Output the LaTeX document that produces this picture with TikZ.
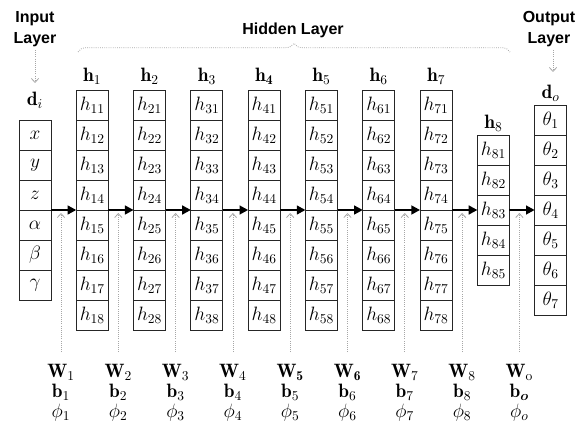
\RequirePackage{fix-cm}
\documentclass[tikz,border=0pt]{standalone}
\usepackage{amsmath}
\usepackage{bm}
\usepackage{fontspec}
\newfontfamily\labfont{Liberation Sans}
\usetikzlibrary{arrows.meta,decorations.pathreplacing}
\begin{document}
\begin{tikzpicture}[x=0.75pt,y=-0.75pt,
  font=\fontsize{14.5}{17}\selectfont,
  cell/.style={draw=black!85, line width=0.7pt, minimum width=24pt, minimum height=22.5pt, inner sep=0pt},
  colbox/.style={draw=none, minimum width=24pt, inner sep=0pt, outer sep=0pt},
  fwd/.style={line width=1.7pt, -{Triangle[length=6.5pt,width=6.5pt]}},
  dotarrow/.style={gray!70, densely dotted, line width=0.6pt, -{Straight Barb[length=3pt,width=5.5pt]}},
  layerlab/.style={font=\labfont\bfseries\fontsize{12}{15.5}\selectfont, align=center, inner sep=1pt},
  param/.style={inner sep=0pt}]
\useasboundingbox (0,0) rectangle (577,423);

% input column
\node[colbox, minimum height=135pt] (col0) at (35,210) {};
\foreach \r/\t in {1/x,2/y,3/z,4/\alpha,5/\beta,6/\gamma}
  \node[cell] (in-\r) at (35,{105+30*\r}) {$\t$};
\node (di) at (35,100) {$\mathbf{d}_i$};

% hidden columns 1..7
\foreach \k/\hs in {1/1,2/2,3/3,4/\mathbf{4},5/5,6/6,7/7} {
  \node[colbox, minimum height=180pt] (col\k) at ({35+57.3*\k},210) {};
  \node (hl\k) at ({35+57.3*\k},76) {$\mathbf{h}_{\hs}$};
  \foreach \r in {1,...,8}
    \node[cell] (h\k-\r) at ({35+57.3*\k},{75+30*\r}) {$h_{\k\r}$};
}

% hidden column 8
\node[colbox, minimum height=112.5pt] (col8) at ({35+57.3*8},210) {};
\node (hl8) at ({35+57.3*8},123) {$\mathbf{h}_8$};
\foreach \r in {1,...,5}
  \node[cell] (h8-\r) at ({35+57.3*8},{120+30*\r}) {$h_{8\r}$};

% output column
\node[colbox, minimum height=157.5pt] (col9) at ({35+57.3*9},210) {};
\node (do) at ({35+57.3*9},93) {$\mathbf{d}_o$};
\foreach \r in {1,...,7}
  \node[cell] (out-\r) at ({35+57.3*9},{90+30*\r}) {$\theta_{\r}$};

% forward arrows
\foreach \k [evaluate=\k as \j using int(\k+1)] in {0,...,8}
  \draw[fwd] (col\k.east) -- (col\j.west);

% parameters
\foreach \k/\ws/\bs/\ps in {0/1/1/1,1/2/2/2,2/3/3/3,3/4/4/4,4/\mathbf{5}/5/5,5/\mathbf{6}/6/6,6/7/7/7,7/8/8/8,8/\mathrm{o}/\bm{o}/o} {
  \node[param] (W\k) at ({61+57.3*\k},372) {$\mathbf{W}_{\ws}$};
  \node[param] (b\k) at ({61+57.3*\k},392) {$\mathbf{b}_{\bs}$};
  \node[param] (p\k) at ({61+57.3*\k},413) {$\phi_{\ps}$};
  \coordinate (wb\k) at ({61+57.3*\k},352);
  \coordinate (wt\k) at ({61+57.3*\k},213);
  \draw[dotarrow] (wb\k) -- (wt\k);
}

% layer labels
\node[layerlab] (inl) at (35,29) {Input\\Layer};
\node[layerlab] (outl) at (549,29) {Output\\Layer};
\node[layerlab] (hidl) at (293,30) {Hidden Layer};
\coordinate (ia) at (35,50);
\coordinate (ib) at (35,83);
\draw[dotarrow] (ia) -- (ib);
\coordinate (oa) at (553,50);
\coordinate (ob) at (553,72);
\draw[dotarrow] (oa) -- (ob);
\draw[gray!70, densely dotted, line width=0.6pt, decorate, decoration={brace, amplitude=6.5pt}] (78,52) -- (510,52);
\end{tikzpicture}
\end{document}
